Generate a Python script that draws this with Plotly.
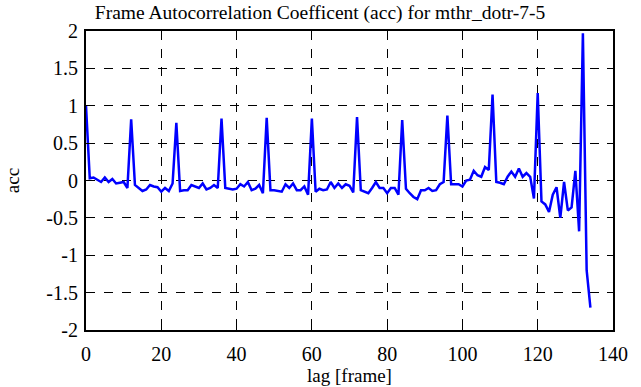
import plotly.graph_objects as go

lag = list(range(0, 135))
acc = [
    1.0, 0.03, 0.04, 0.01, -0.02, 0.04, -0.02, 0.02, -0.04, -0.03,
    -0.02, -0.1, 0.82, -0.06, -0.1, -0.14, -0.12, -0.06, -0.08, -0.09,
    -0.15, -0.1, -0.14, -0.04, 0.77, -0.14, -0.13, -0.13, -0.06, -0.08,
    -0.1, -0.04, -0.12, -0.1, -0.06, -0.1, 0.83, -0.1, -0.11, -0.12,
    -0.11, -0.05, -0.08, -0.02, -0.13, -0.11, -0.06, -0.17, 0.84, -0.13,
    -0.13, -0.14, -0.15, -0.05, -0.1, -0.04, -0.13, -0.13, -0.08, -0.19,
    0.83, -0.15, -0.11, -0.13, -0.12, -0.02, -0.1, -0.04, -0.1, -0.05,
    -0.07, -0.16, 0.85, -0.13, -0.15, -0.17, -0.1, -0.02, -0.1, -0.1,
    -0.17, -0.1, -0.1, -0.19, 0.81, -0.11, -0.17, -0.22, -0.25, -0.13,
    -0.13, -0.1, -0.14, -0.13, -0.05, -0.02, 0.87, -0.05, -0.05, -0.05,
    -0.08, 0.0, 0.01, 0.13, 0.07, 0.05, 0.18, 0.14, 1.15, -0.02,
    -0.03, -0.05, 0.05, 0.12, 0.05, 0.16, 0.05, 0.1, 0.05, -0.24,
    1.17, -0.28, -0.32, -0.42, -0.19, -0.09, -0.5, -0.02, -0.4, -0.36,
    0.13, -0.68, 1.97, -1.2, -1.7,
]

x_ticks = [0, 20, 40, 60, 80, 100, 120, 140]
y_ticks = [-2, -1.5, -1, -0.5, 0, 0.5, 1, 1.5, 2]
y_tick_text = ["-2", "-1.5", "-1", "-0.5", "0", "0.5", "1", "1.5", "2"]

font_family = "Liberation Serif"

fig = go.Figure()
fig.add_trace(go.Scatter(
    x=lag, y=acc, mode="lines",
    line=dict(color="#0000ff", width=2.5),
    showlegend=False,
))

axis_common = dict(
    showline=True, linecolor="black", linewidth=2, mirror="ticks",
    ticks="inside", ticklen=6, tickcolor="black", tickwidth=1,
    showgrid=True, gridcolor="black", gridwidth=1, griddash="dash",
    zeroline=False, automargin=False,
    tickfont=dict(family=font_family, size=20, color="black"),
)

fig.update_layout(
    width=641, height=387,
    margin=dict(l=86, r=28, t=31, b=57),
    paper_bgcolor="white", plot_bgcolor="white",
    font=dict(family=font_family, color="black"),
    title=dict(text="Frame Autocorrelation Coefficent (acc) for mthr_dotr-7-5",
               x=320 / 641, xref="container", y=1 - 12 / 387, yref="container",
               yanchor="middle", xanchor="center",
               font=dict(family=font_family, size=19.5, color="black")),
    xaxis=dict(range=[0, 140], tickvals=x_ticks, ticklabelstandoff=5,
               title=dict(text="lag [frame]", font=dict(family=font_family, size=19), standoff=4),
               **axis_common),
    yaxis=dict(range=[-2, 2], tickvals=y_ticks, ticktext=y_tick_text, ticklabelstandoff=2,
               title=dict(text="acc", font=dict(family=font_family, size=19), standoff=22),
               **axis_common),
)

fig.write_html("out.html", config={"displayModeBar": False},
               post_script="document.body.style.margin='0';")
